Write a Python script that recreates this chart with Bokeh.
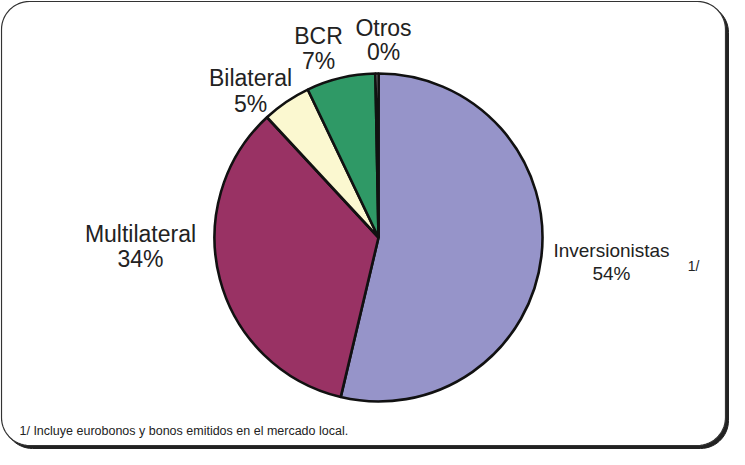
import numpy as np
from bokeh.plotting import figure
from bokeh.models import Range1d, ColumnDataSource
from bokeh.core.properties import value
from bokeh.embed import file_html
from bokeh.resources import INLINE

# ---- data ----
categories = ["Inversionistas", "Multilateral", "Bilateral", "BCR", "Otros"]
shares = [53.7, 34.4, 4.8, 6.8, 0.3]
pct_labels = ["54%", "34%", "5%", "7%", "0%"]
colors = ["#9694C9", "#993264", "#FBF8D0", "#2F9966", "#E6E6E6"]
footnote = "1/ Incluye eurobonos y bonos emitidos en el mercado local."
note_mark = "1/"

# ---- layout (screen pixel coordinates) ----
W, H = 729, 449
OFF = 8
def sy(y):  # screen y -> data y
    return (H + OFF) - y

cx, cy, R = 386, 245, 164
# label centres: (name_x, name_y, pct_y, font size)
label_pos = {
    "Inversionistas": (619, 258, 281, "19px"),
    "Multilateral": (148, 241, 266, "23px"),
    "Bilateral": (258, 85, 111, "23px"),
    "BCR": (326, 43, 68, "23px"),
    "Otros": (391, 35, 59, "23px"),
}

p = figure(width=W, height=H, output_backend="svg", toolbar_location=None,
           x_range=Range1d(OFF, OFF + W), y_range=Range1d(0, H),
           min_border=0)
p.axis.visible = False
p.grid.visible = False
p.outline_line_color = None
p.background_fill_color = "white"
p.border_fill_color = "white"

# rounded frame with shadow
def rounded(x0, y0, x1, y1, r, n=16):
    xs, ys = [], []
    corners = [(x1 - r, y0 + r, -90, 0), (x1 - r, y1 - r, 0, 90),
               (x0 + r, y1 - r, 90, 180), (x0 + r, y0 + r, 180, 270)]
    for ccx, ccy, a0, a1 in corners:
        t = np.radians(np.linspace(a0, a1, n))
        xs.extend(ccx + r * np.cos(t))
        ys.extend(ccy + r * np.sin(t))
    return np.array(xs), np.array([sy(v) for v in ys])

sx_, sy_ = rounded(12, 12, 736, 456, 28)
p.patch(sx_, sy_, fill_color="#222222", line_color="#222222")
fx, fy = rounded(9, 9, 733, 453, 28)
p.patch(fx, fy, fill_color="white", line_color="#333333", line_width=1.2)

# pie
total = sum(shares)
cum = np.concatenate([[0], np.cumsum(shares)]) / total
start = np.pi / 2 - cum[:-1] * 2 * np.pi
end = np.pi / 2 - cum[1:] * 2 * np.pi
src = ColumnDataSource(dict(cat=categories, start=start, end=end, color=colors))
p.wedge(x=cx, y=sy(cy), radius=R, start_angle="start", end_angle="end",
        direction="clock", fill_color="color", line_color="#111111",
        line_width=2.6, source=src)

font = value("Liberation Sans")
for cat, pct in zip(categories, pct_labels):
    lx, ny, py, fs = label_pos[cat]
    p.text(x=[lx], y=[sy(ny)], text=[cat], text_font=font, text_font_size=fs,
           text_align="center", text_baseline="middle", text_color="#222222")
    p.text(x=[lx], y=[sy(py)], text=[pct], text_font=font, text_font_size=fs,
           text_align="center", text_baseline="middle", text_color="#222222")

p.text(x=[701], y=[sy(273)], text=[note_mark], text_font=font, text_font_size="14px",
       text_align="center", text_baseline="middle", text_color="#222222")
p.text(x=[27], y=[sy(438)], text=[footnote], text_font=font,
       text_font_size="12.5px",
       text_align="left", text_baseline="middle", text_color="#222222")

open("out.html", "w").write(file_html(p, INLINE))
